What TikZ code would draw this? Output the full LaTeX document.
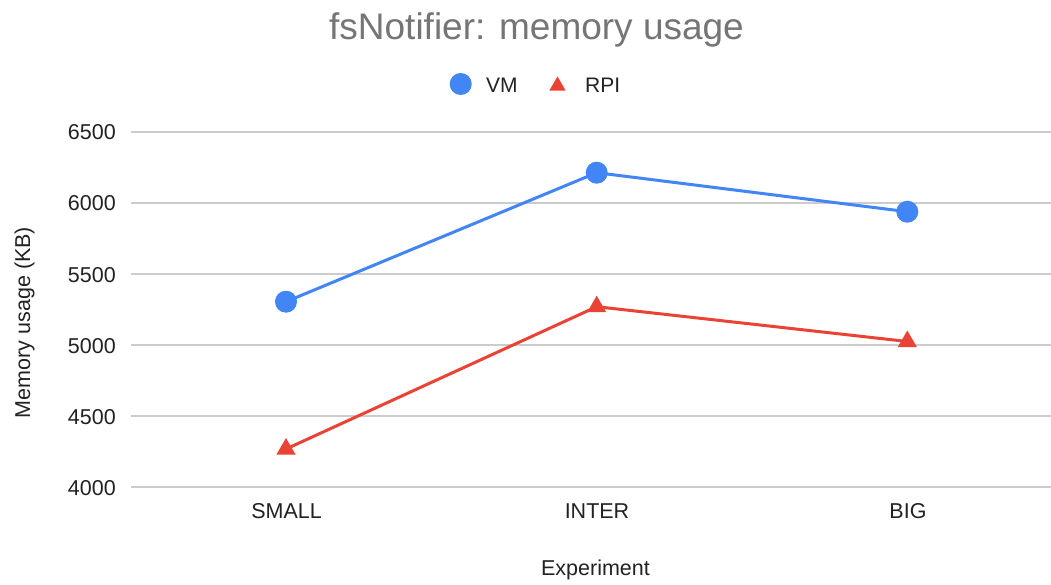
\documentclass[tikz,border=0pt]{standalone}
\usepackage{fontspec}
\setmainfont{Liberation Sans}
\usetikzlibrary{shapes.geometric}
\definecolor{vmblue}{HTML}{4285F4}
\definecolor{rpired}{HTML}{EA4335}
\definecolor{titlegray}{HTML}{757575}
\definecolor{gridgray}{HTML}{CCCCCC}
\definecolor{txt}{HTML}{222222}
\begin{document}
\begin{tikzpicture}[x=1pt,y=-1pt,
  gridline/.style={draw=gridgray,line width=1.3pt},
  series/.style={line width=3pt,line join=round},
  vmdot/.style={circle,fill=vmblue,inner sep=0pt,minimum size=22pt},
  rpitri/.style={regular polygon,regular polygon sides=3,fill=rpired,inner sep=0pt,minimum size=22pt},
  ticklab/.style={text=txt,font=\fontsize{21.5}{24}\selectfont,inner sep=0pt},
  legtext/.style={text=txt,font=\fontsize{21}{24}\selectfont,inner sep=0pt,anchor=base west}
]
\useasboundingbox[fill=white] (0,0) rectangle (1051,585);
% title
\node[text=titlegray,font=\fontsize{37}{40}\selectfont,anchor=base,inner sep=0pt] (title) at (536.5,39.3) {fsNotifier: memory usage};
% legend
\node[vmdot] (legvm) at (460.7,84) {};
\node[legtext] (legvmt) at (486,92.3) {VM};
\node[rpitri,minimum size=19pt] (legrpi) at (557.5,86) {};
\node[legtext] (legrpit) at (585,92.3) {RPI};
% grid and y ticks
\foreach \v/\y in {6500/132,6000/203,5500/274,5000/345,4500/416,4000/487}{
  \coordinate (gl\v) at (131,\y);
  \coordinate (gr\v) at (1051,\y);
  \draw[gridline] (gl\v) -- (gr\v);
  \node[ticklab,anchor=base east] (t\v) at (116,\y+8) {\v};
}
% x category labels
\node[ticklab,anchor=base] (cs) at (286.5,518) {SMALL};
\node[ticklab,anchor=base] (ci) at (597,518) {INTER};
\node[ticklab,anchor=base] (cb) at (908,518) {BIG};
% axis titles
\node[ticklab,font=\fontsize{21.5}{24}\selectfont,anchor=base] (xtitle) at (595.5,575.5) {Experiment};
\node[ticklab,font=\fontsize{21.5}{24}\selectfont,anchor=base,rotate=90] (ytitle) at (30,322.5) {Memory usage (KB)};
% data points
\coordinate (pv1) at (286,301.7);
\coordinate (pv2) at (596.7,172.7);
\coordinate (pv3) at (907.3,211.7);
\coordinate (pr1) at (286,449);
\coordinate (pr2) at (596.7,306.7);
\coordinate (pr3) at (907.3,341.5);
\draw[series,draw=vmblue] (pv1) -- (pv2) -- (pv3);
\draw[series,draw=rpired] (pr1) -- (pr2) -- (pr3);
\node[vmdot] (v1) at (pv1) {};
\node[vmdot] (v2) at (pv2) {};
\node[vmdot] (v3) at (pv3) {};
\node[rpitri] (r1) at (pr1) {};
\node[rpitri] (r2) at (pr2) {};
\node[rpitri] (r3) at (pr3) {};
\end{tikzpicture}
\end{document}
